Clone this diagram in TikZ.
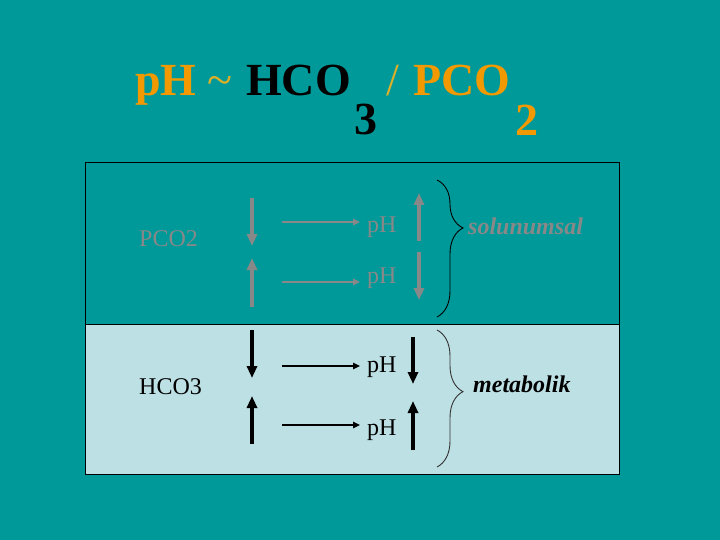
\documentclass[tikz,border=0pt]{standalone}
\usepackage{fontspec}
\setmainfont{Liberation Serif}
\usepackage{xcolor}
\usetikzlibrary{arrows.meta,decorations.pathreplacing}
\definecolor{slideteal}{RGB}{0,153,153}
\definecolor{titleorange}{RGB}{242,153,0}
\definecolor{titlegold}{RGB}{222,176,40}
\definecolor{dimgrey}{RGB}{136,136,136}
\definecolor{paleblue}{RGB}{189,224,228}

\begin{document}
\begin{tikzpicture}[x=1pt,y=-1pt,
    bigtext/.style={font=\fontsize{46}{55}\selectfont\bfseries,inner sep=0pt,anchor=base west},
    signtext/.style={font=\fontsize{46}{55}\selectfont,inner sep=0pt,anchor=base west,text=titlegold},
    rowtext/.style={font=\fontsize{24}{29}\selectfont,inner sep=0pt,anchor=base west},
    sidetext/.style={font=\fontsize{24}{29}\selectfont\bfseries\itshape,inner sep=0pt,anchor=base west},
    fatarrow/.style={line width=3.3pt,-{Triangle[length=12pt,width=10pt]}},
    slimarrow/.style={line width=1.3pt,-{Triangle[length=7pt,width=6.5pt]},shorten >=7pt},
    sidebrace/.style={decorate,decoration={brace,amplitude=26pt,aspect=#1},line width=0.9pt}]
        \useasboundingbox (0,0) rectangle (720,540);
        % background
        \fill[slideteal] (0,0) rectangle (720,540);

        % title
        \node[bigtext,text=titleorange] (tph) at (135,96) {pH};
        \node[signtext] (tilde) at (207,96) {\char"007E};
        \node[bigtext] (thco) at (246,96) {HCO};
        \node[bigtext] (tthree) at (354,135) {3};
        \node[signtext] (tslash) at (386,96) {/};
        \node[bigtext,text=titleorange] (tpco) at (413,96) {PCO};
        \node[bigtext,text=titleorange] (ttwo) at (515,136) {2};

        % panels
        \draw[line width=1pt] (85,163) rectangle (619,324);
        \filldraw[fill=paleblue,draw=black,line width=1pt] (85,324) rectangle (619,474);

        % upper panel (respiratory)
        \node[rowtext,text=dimgrey] (pco) at (139,247) {PCO2};
        \node[rowtext,text=dimgrey] (pha) at (367,233) {pH};
        \node[rowtext,text=dimgrey] (phb) at (367,283) {pH};
        \coordinate (pa1) at (252,198); \coordinate (pa2) at (252,246);
        \coordinate (pb1) at (252,307); \coordinate (pb2) at (252,258);
        \coordinate (pc1) at (419,241); \coordinate (pc2) at (419,193);
        \coordinate (pd1) at (419,252); \coordinate (pd2) at (419,300);
        \coordinate (ph1) at (282,222); \coordinate (ph2) at (282,282);
        \draw[fatarrow,dimgrey] (pa1) -- (pa2);
        \draw[fatarrow,dimgrey] (pb1) -- (pb2);
        \draw[fatarrow,dimgrey] (pc1) -- (pc2);
        \draw[fatarrow,dimgrey] (pd1) -- (pd2);
        \draw[slimarrow,dimgrey] (ph1) -- (ph1 -| pha.west);
        \draw[slimarrow,dimgrey] (ph2) -- (ph2 -| phb.west);
        \coordinate (ubt) at (437,180); \coordinate (ubb) at (437,317);
        \draw[sidebrace=0.35] (ubt) -- (ubb);
        \node[sidetext,text=dimgrey] (solu) at (468,234) {solunumsal};

        % lower panel (metabolic)
        \node[rowtext] (hco) at (139,394) {HCO3};
        \node[rowtext] (phc) at (367,372) {pH};
        \node[rowtext] (phd) at (367,435) {pH};
        \coordinate (ma1) at (252,330); \coordinate (ma2) at (252,378);
        \coordinate (mb1) at (252,444); \coordinate (mb2) at (252,396);
        \coordinate (mc1) at (413,337); \coordinate (mc2) at (413,384);
        \coordinate (md1) at (413,450); \coordinate (md2) at (413,401);
        \coordinate (mh1) at (282,366); \coordinate (mh2) at (282,425);
        \draw[fatarrow] (ma1) -- (ma2);
        \draw[fatarrow] (mb1) -- (mb2);
        \draw[fatarrow] (mc1) -- (mc2);
        \draw[fatarrow] (md1) -- (md2);
        \draw[slimarrow] (mh1) -- (mh1 -| phc.west);
        \draw[slimarrow] (mh2) -- (mh2 -| phd.west);
        \coordinate (lbt) at (437,330); \coordinate (lbb) at (437,467);
        \draw[sidebrace=0.45,draw=black!80] (lbt) -- (lbb);
        \node[sidetext] (meta) at (473,392) {metabolik};
    \end{tikzpicture}
\end{document}
